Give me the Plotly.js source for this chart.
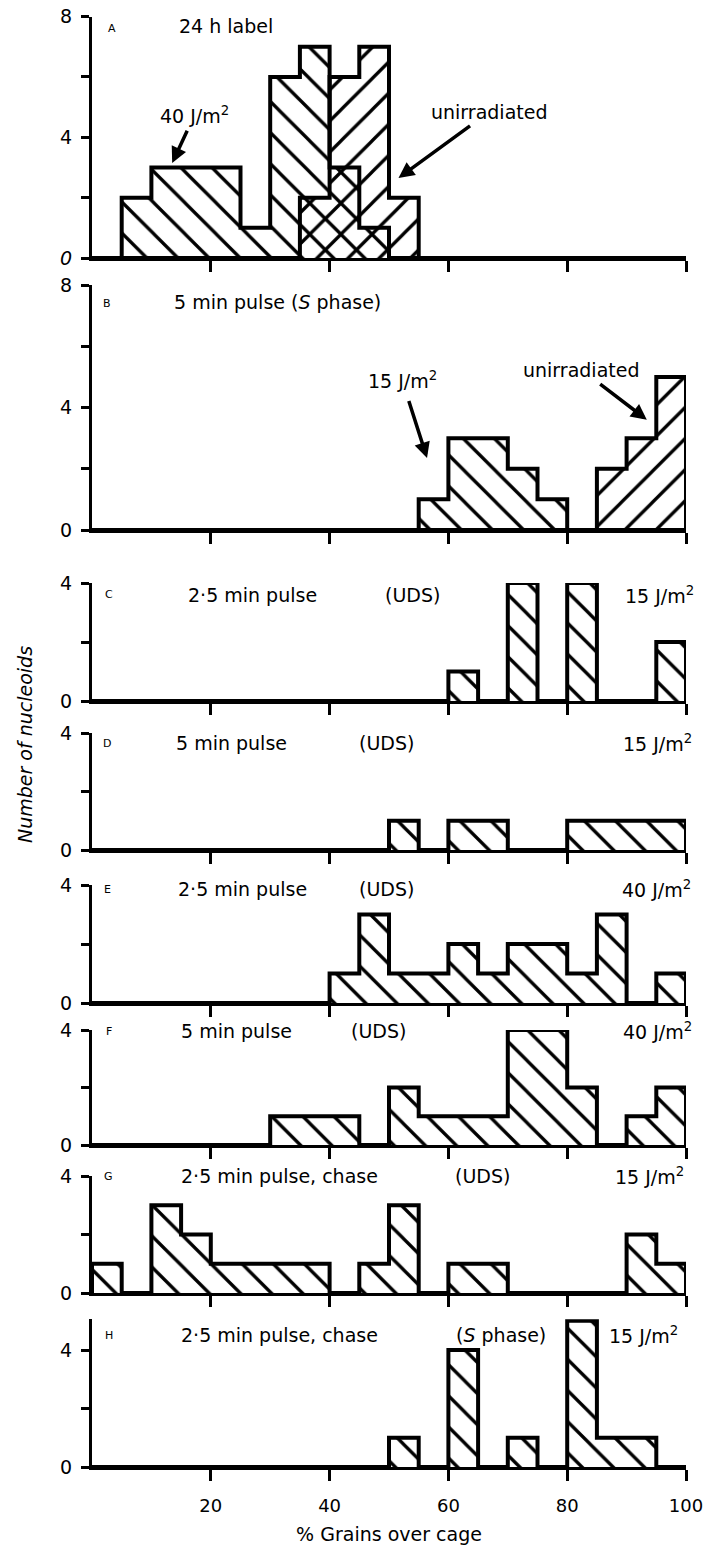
<!DOCTYPE html>
<html>
<head>
<meta charset="utf-8">
<script src="https://cdn.plot.ly/plotly-3.0.1.min.js"></script>
<style>html,body{margin:0;padding:0;background:#fff;}#chart{width:704px;height:1549px;}</style>
</head>
<body>
<div id="chart"></div>
<script>
// ---- data: histogram bins (% grains over cage), counts of nucleoids ----
const binStart = [0,5,10,15,20,25,30,35,40,45,50,55,60,65,70,75,80,85,90,95];
const xTickVals = [20,40,60,80,100];
const xTickText = ['20','40','60','80','100'];

// A: 24 h label
const A_40J   = [0,2,3,3,3,1,6,7,3,1,0,0,0,0,0,0,0,0,0,0];
const A_unirr = [0,0,0,0,0,0,0,2,6,7,2,0,0,0,0,0,0,0,0,0];
// B: 5 min pulse (S phase)
const B_15J   = [0,0,0,0,0,0,0,0,0,0,0,1,3,3,2,1,0,0,0,0];
const B_unirr = [0,0,0,0,0,0,0,0,0,0,0,0,0,0,0,0,0,2,3,5];
// C: 2.5 min pulse (UDS) 15 J/m2
const C_15J   = [0,0,0,0,0,0,0,0,0,0,0,0,1,0,4,0,4,0,0,2];
// D: 5 min pulse (UDS) 15 J/m2
const D_15J   = [0,0,0,0,0,0,0,0,0,0,1,0,1,1,0,0,1,1,1,1];
// E: 2.5 min pulse (UDS) 40 J/m2
const E_40J   = [0,0,0,0,0,0,0,0,1,3,1,1,2,1,2,2,1,3,0,1];
// F: 5 min pulse (UDS) 40 J/m2
const F_40J   = [0,0,0,0,0,0,1,1,1,0,2,1,1,1,4,4,2,0,1,2];
// G: 2.5 min pulse, chase (UDS) 15 J/m2
const G_15J   = [1,0,3,2,1,1,1,1,0,1,3,0,1,1,0,0,0,0,2,1];
// H: 2.5 min pulse, chase (S phase) 15 J/m2
const H_15J   = [0,0,0,0,0,0,0,0,0,0,1,0,4,0,1,0,5,1,1,0];

const panelLetters = ['A','B','C','D','E','F','G','H'];

// ---- layout geometry ----
const W = 704, Htot = 1549, ML = 92, MR = 18, MT = 0, MB = 82;
const PH = Htot - MT - MB;
function dom(topPx, botPx){ return [1 - botPx/PH, 1 - topPx/PH]; }

const panels = [
  {top:16.5, bot:258,  range:[0,8],    tv:[0,4,8], tt:['<i>0</i>','4','8'], minor:[2,6]},
  {top:285,  bot:530,  range:[0,8],    tv:[0,4,8], tt:['0','4','8'], minor:[2,6]},
  {top:583,  bot:701,  range:[0,4],    tv:[0,4], tt:['0','4'], minor:[2]},
  {top:733,  bot:850,  range:[0,4],    tv:[0,4], tt:['0','4'], minor:[2]},
  {top:885,  bot:1003, range:[0,4],    tv:[0,4], tt:['0','4'], minor:[2]},
  {top:1030, bot:1145, range:[0,4],    tv:[0,4], tt:['0','4'], minor:[2]},
  {top:1176, bot:1293, range:[0,4],    tv:[0,4], tt:['0','4'], minor:[2]},
  {top:1319.3, bot:1467, range:[0,5.05], tv:[0,4], tt:['0','4'], minor:[2]}
];

const FONT = 'DejaVu Sans, Liberation Sans, Arial, sans-serif';

function sfx(i){ return i === 0 ? '' : String(i+1); }

function hatchBars(counts, i, shape){
  return {
    type:'bar', x: binStart, y: counts, offset: 0, width: 5,
    xaxis:'x'+sfx(i), yaxis:'y'+sfx(i), cliponaxis:false,
    hoverinfo:'skip', showlegend:false,
    marker:{color:'rgba(0,0,0,0)', line:{width:0},
      pattern:{shape: shape, fgcolor:'#000', bgcolor:'rgba(0,0,0,0)', size:22, solidity:0.15, fillmode:'replace'}}
  };
}
function outline(counts, i){
  return {
    type:'scatter', mode:'lines',
    x: [0].concat(binStart, [100]), y: [0].concat(counts, [0]),
    line:{shape:'hv', color:'#000', width:4},
    xaxis:'x'+sfx(i), yaxis:'y'+sfx(i), cliponaxis:false,
    hoverinfo:'skip', showlegend:false
  };
}

const series = [
  {d:A_40J, p:0, s:'\\'}, {d:A_unirr, p:0, s:'/'},
  {d:B_15J, p:1, s:'\\'}, {d:B_unirr, p:1, s:'/'},
  {d:C_15J, p:2, s:'\\'}, {d:D_15J, p:3, s:'\\'},
  {d:E_40J, p:4, s:'\\'}, {d:F_40J, p:5, s:'\\'},
  {d:G_15J, p:6, s:'\\'}, {d:H_15J, p:7, s:'\\'}
];

const traces = [];
series.forEach(s => traces.push(hatchBars(s.d, s.p, s.s)));
series.forEach(s => traces.push(outline(s.d, s.p)));

const layout = {
  width: W, height: Htot,
  margin:{l:ML, r:MR, t:MT, b:MB},
  paper_bgcolor:'#fff', plot_bgcolor:'rgba(0,0,0,0)',
  barmode:'overlay', bargap:0, showlegend:false,
  font:{family:FONT, color:'#000', size:19},
  annotations: []
};

panels.forEach((p, i) => {
  const s = sfx(i);
  layout['xaxis'+s] = {
    domain:[0,1], range:[0,100], anchor:'y'+s,
    showline:true, linewidth:3, linecolor:'#000', mirror:false,
    ticks:'outside', ticklen:11, tickwidth:3, tickcolor:'#000',
    tickmode:'array', tickvals:xTickVals, ticktext:xTickText,
    showticklabels: i === 7, ticklabelstandoff: 9,
    tickfont:{family:FONT, size:18, color:'#000'},
    showgrid:false, zeroline:false, fixedrange:true
  };
  layout['yaxis'+s] = {
    domain: dom(p.top, p.bot), range: p.range, anchor:'x'+s,
    showline:true, linewidth:3, linecolor:'#000',
    ticks:'outside', ticklen:8, tickwidth:3, tickcolor:'#000',
    tickmode:'array', tickvals:p.tv, ticktext:p.tt, ticklabelstandoff: 5,
    minor:{tickmode:'array', tickvals:p.minor, ticks:'outside', ticklen:8, tickwidth:3, tickcolor:'#000', showgrid:false},
    tickfont:{family:FONT, size:19, color:'#000'},
    showgrid:false, zeroline:false, fixedrange:true
  };
});
layout.xaxis8.title = {text:'% Grains over cage', font:{family:FONT, size:19, color:'#000'}, standoff:14};

function txt(i, x, y, text, size){
  layout.annotations.push({xref:'x'+sfx(i), yref:'y'+sfx(i), x:x, y:y, text:text,
    showarrow:false, xanchor:'center', yanchor:'middle',
    font:{family:FONT, size:size||19, color:'#000'}});
}
// text placed at (tx,ty) with an arrow pointing to (hx,hy)
function txtArrow(i, tx, ty, text, hx, hy, sso){
  layout.annotations.push({xref:'x'+sfx(i), yref:'y'+sfx(i), axref:'x'+sfx(i), ayref:'y'+sfx(i),
    ax:tx, ay:ty, x:hx, y:hy, text:text, showarrow:true, startstandoff: sso||4,
    arrowhead:2, arrowsize:0.9, arrowwidth:3.5, arrowcolor:'#000',
    font:{family:FONT, size:19, color:'#000'}});
}

// panel letters
const letterPos = [[3.4,7.6],[2.6,7.4],[2.8,3.6],[2.6,3.65],[2.6,3.85],[2.8,3.95],[2.8,4.0],[2.8,4.5]];
panelLetters.forEach((L, i) => txt(i, letterPos[i][0], letterPos[i][1], L, 11));

// A
txt(0, 22.5, 7.7, '24 h label');
txtArrow(0, 17.3, 4.75, '40 J/m<sup>2</sup>', 13.5, 3.15, 3);
txtArrow(0, 66.8, 4.83, 'unirradiated', 51.6, 2.65, 2);
// B
txt(1, 31.2, 7.45, '5 min pulse (<i>S</i> phase)');
txtArrow(1, 52.2, 4.9, '15 J/m<sup>2</sup>', 56.4, 2.35, 8);
txtArrow(1, 82.4, 5.23, 'unirradiated', 93.4, 3.6, 3);
// C
txt(2, 27, 3.6, '2·5 min pulse');
txt(2, 54, 3.6, '(UDS)');
txt(2, 95.5, 3.6, '15 J/m<sup>2</sup>');
// D
txt(3, 23.5, 3.65, '5 min pulse');
txt(3, 49.5, 3.65, '(UDS)');
txt(3, 95.2, 3.65, '15 J/m<sup>2</sup>');
// E
txt(4, 25.4, 3.85, '2·5 min pulse');
txt(4, 49.5, 3.85, '(UDS)');
txt(4, 95.0, 3.85, '40 J/m<sup>2</sup>');
// F
txt(5, 24.4, 3.95, '5 min pulse');
txt(5, 48.3, 3.95, '(UDS)');
txt(5, 95.2, 3.95, '40 J/m<sup>2</sup>');
// G
txt(6, 31.5, 4.0, '2·5 min pulse, chase');
txt(6, 65.7, 4.0, '(UDS)');
txt(6, 93.8, 4.0, '15 J/m<sup>2</sup>');
// H
txt(7, 31.5, 4.5, '2·5 min pulse, chase');
txt(7, 68.9, 4.5, '(<i>S</i> phase)');
txt(7, 92.9, 4.5, '15 J/m<sup>2</sup>');

// shared y-axis title
layout.annotations.push({xref:'paper', yref:'paper', x:(25-ML)/(W-ML-MR), y:1-745/PH,
  text:'<i>Number of nucleoids</i>', textangle:-90, showarrow:false,
  xanchor:'center', yanchor:'middle', font:{family:FONT, size:19, color:'#000'}});

Plotly.newPlot('chart', traces, layout, {staticPlot:true, displayModeBar:false});
</script>
</body>
</html>
